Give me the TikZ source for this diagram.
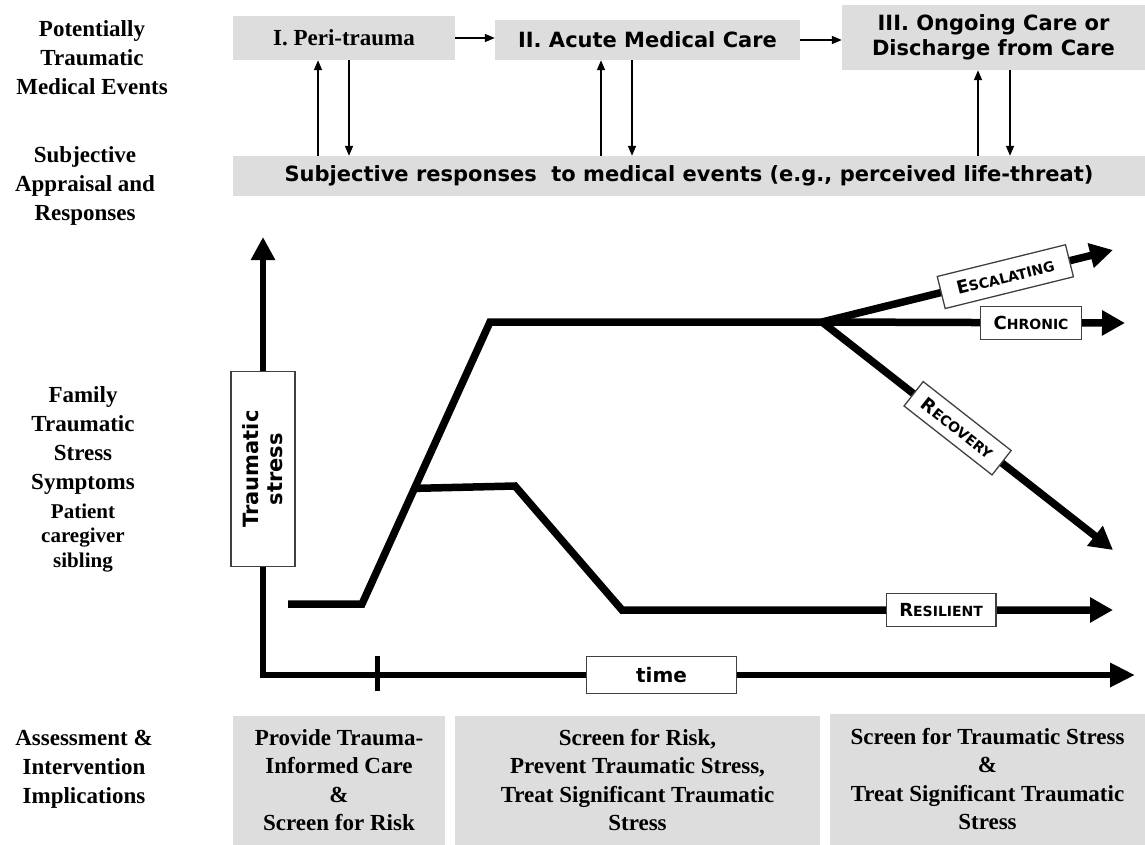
\documentclass[tikz,border=0pt]{standalone}
\usepackage{fontspec}
\setmainfont{Liberation Serif}
\setsansfont{DejaVu Sans}
\usetikzlibrary{arrows.meta,calc}
\definecolor{boxgray}{RGB}{221,221,221}
\newcommand{\tagname}[2]{#1{\fontsize{14}{14}\selectfont #2}}

\begin{document}
\begin{tikzpicture}[x=1pt, y=-1pt,
    rowlabel/.style={align=center, font=\fontsize{23}{29}\selectfont\rmfamily\bfseries},
    phase/.style={fill=boxgray, inner sep=0pt, align=center, font=\fontsize{21}{25}\selectfont\sffamily\bfseries},
    plan/.style={fill=boxgray, inner sep=0pt, align=center, font=\fontsize{23}{28.5}\selectfont\rmfamily\bfseries},
    flow/.style={-{Triangle[length=10pt,width=8pt]}, line width=1.6pt},
    axis/.style={line width=6.5pt, {Triangle[length=23pt,width=23pt]}-{Triangle[length=25pt,width=23pt]}},
    trend/.style={line width=7.5pt, -{Triangle[length=23pt,width=24pt]}},
    tag/.style={draw=black!75, line width=1.3pt, fill=white, inner xsep=13pt, minimum height=33pt, font=\fontsize{18}{18}\selectfont\sffamily\bfseries}
]
    \useasboundingbox (0,0) rectangle (1145,844);

    \node[rowlabel] (events) at (92,58) {Potentially\\Traumatic\\Medical Events};
    \node[rowlabel] (appraisal) at (85,186) {Subjective\\Appraisal and\\Responses};
    \node[rowlabel] (symptoms) at (83,440) {Family\\Traumatic\\Stress\\Symptoms};
    \node[rowlabel, font=\fontsize{21}{24.5}\selectfont\rmfamily\bfseries] (members) at (83,538) {Patient\\caregiver\\sibling};
    \node[rowlabel] (implications) at (84,769) {Assessment \&\\Intervention\\Implications};

    \node[phase, minimum width=222pt, minimum height=44pt, font=\fontsize{23}{23}\selectfont\rmfamily\bfseries] (peri) at (344,38) {I. Peri-trauma};
    \node[phase, minimum width=305pt, minimum height=40pt] (acute) at (647.5,40) {II. Acute Medical Care};
    \node[phase, minimum width=303pt, minimum height=65pt] (ongoing) at (993.5,37.5) {III. Ongoing Care or\\Discharge from Care};
    \node[phase, minimum width=912pt, minimum height=40pt] (subj) at (689,176) {Subjective responses\ \ to medical events (e.g., perceived life-threat)};

    \draw[flow] (peri.east) -- (peri.east -| acute.west);
    \draw[flow] (acute.east) -- (acute.east -| ongoing.west);
    \draw[flow] ([xshift=-26pt]peri.south |- subj.north) -- ([xshift=-26pt]peri.south);
    \draw[flow] ([xshift=5pt]peri.south) -- ([xshift=5pt]peri.south |- subj.north);
    \draw[flow] ([xshift=-46.5pt]acute.south |- subj.north) -- ([xshift=-46.5pt]acute.south);
    \draw[flow] ([xshift=-15.5pt]acute.south) -- ([xshift=-15.5pt]acute.south |- subj.north);
    \draw[flow] ([xshift=-15.5pt]ongoing.south |- subj.north) -- ([xshift=-15.5pt]ongoing.south);
    \draw[flow] ([xshift=16.5pt]ongoing.south) -- ([xshift=16.5pt]ongoing.south |- subj.north);

    \coordinate (ytip) at (263,237);
    \coordinate (origin) at (263,675);
    \coordinate (xtip) at (1135,675);
    \draw[axis] (ytip) -- node[tag, pos=0.53, rotate=90, align=center, minimum width=195pt, minimum height=64pt, inner sep=0pt, font=\fontsize{21}{24}\selectfont\sffamily\bfseries] (stress) {Traumatic\\stress} (origin)
        -- node[tag, pos=0.457, minimum width=150pt, minimum height=37pt, font=\fontsize{20}{20}\selectfont\sffamily\bfseries] (time) {time} (xtip);
    \draw[line width=5pt] (377,656) -- (377,691);

    \coordinate (start) at (288,604);
    \coordinate (rise) at (362,604);
    \coordinate (peak) at (490,322);
    \coordinate (fork) at (822,322);
    \coordinate (knee) at ($(rise)!0.41!(peak)$);
    \draw[trend] (start) -- (rise) -- (peak) -- (fork)
        -- node[tag, pos=0.69] (chronic) {\tagname{C}{HRONIC}} (1125,323);
    \draw[trend] (fork) -- node[tag, sloped, pos=0.63, inner xsep=16pt] (escal) {\tagname{E}{SCALATING}} (1113,250);
    \draw[trend] (fork) -- node[tag, sloped, pos=0.466, minimum height=31pt] (recov) {\tagname{R}{ECOVERY}} (1113,550);
    \draw[trend] (knee) -- (515,486) -- (622,610)
        -- node[tag, pos=0.65] (resil) {\tagname{R}{ESILIENT}} (1113,610);

    \node[plan, minimum width=212pt, minimum height=129pt] (care) at (339,780) {Provide Trauma-\\Informed Care\\\&\\Screen for Risk};
    \node[plan, minimum width=365pt, minimum height=129pt] (prevent) at (637.5,780) {Screen for Risk,\\Prevent Traumatic Stress,\\Treat Significant Traumatic\\Stress};
    \node[plan, minimum width=315pt, minimum height=131pt] (treat) at (987.5,779) {Screen for Traumatic Stress\\\&\\Treat Significant Traumatic\\Stress};
\end{tikzpicture}
\end{document}
